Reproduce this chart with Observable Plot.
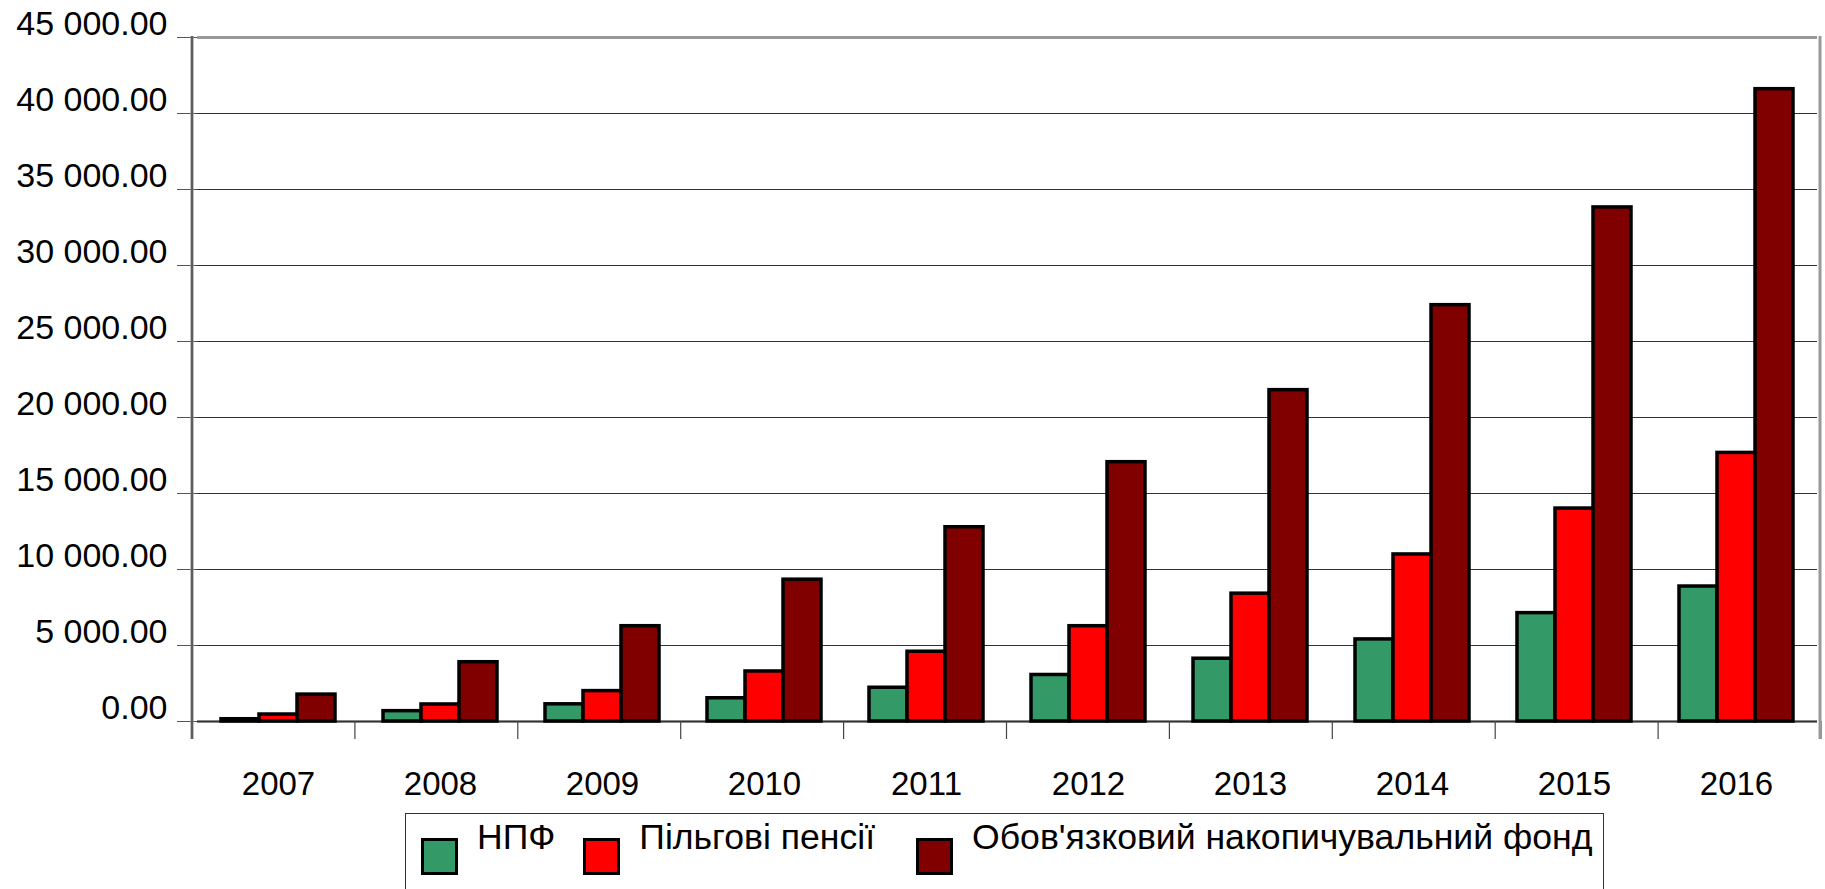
<!DOCTYPE html>
<html><head><meta charset="utf-8">
<script src="https://cdn.jsdelivr.net/npm/d3@7"></script>
<script src="https://cdn.jsdelivr.net/npm/@observablehq/plot@0.6"></script>
<style>
html,body{margin:0;padding:0;background:#fff;}
body{width:1825px;height:889px;overflow:hidden;font-family:"Liberation Sans",Arial,sans-serif;}
#chart svg{display:block;}
#legend{position:relative;margin-left:405px;margin-top:1px;width:1199px;height:130px;border:1.5px solid #333;box-sizing:border-box;display:flex;align-items:flex-start;padding-left:15px;}
.sw{flex:none;width:37px;height:37px;border:3px solid #000;box-sizing:border-box;margin-top:24px;}
.lt{flex:none;font-size:35.6px;line-height:36px;margin-top:5px;margin-left:19px;margin-right:28px;white-space:nowrap;color:#000;}
.lt.k1{margin-right:41px;}
</style></head>
<body><div id="chart"></div><div id="legend"></div>
<script>
const years = [2007, 2008, 2009, 2010, 2011, 2012, 2013, 2014, 2015, 2016];
const series = ["НПФ", "Пільгові пенсії", "Обов'язковий накопичувальний фонд"];
const colors = ["#339966", "#ff0000", "#800000"];
const npf = [150, 680, 1130, 1530, 2220, 3060, 4130, 5400, 7130, 8880];
const pilgovi = [460, 1120, 2000, 3290, 4590, 6270, 8410, 10990, 14010, 17670];
const obovyazkovyi = [1770, 3900, 6270, 9330, 12780, 17060, 21800, 27390, 33820, 41600];
const yTicks = [0, 5000, 10000, 15000, 20000, 25000, 30000, 35000, 40000, 45000];

const seriesValues = [npf, pilgovi, obovyazkovyi];
const data = years.flatMap((yr, i) => series.map((s, k) => ({year: yr, series: s, value: seriesValues[k][i]})));

const loc = d3.formatLocale({decimal: ".", thousands: " ", grouping: [3], currency: ["", ""]});
const fmt = loc.format(",.2f");

const W = 1825, H = 812;
const chart = Plot.plot({
  width: W, height: H,
  marginLeft: 192, marginRight: 4, marginTop: 37, marginBottom: H - 721,
  style: {fontFamily: "'Liberation Sans', Arial, sans-serif", fontSize: "33px", color: "#000", background: "#fff", overflow: "visible"},
  fx: {domain: years, paddingInner: 0, paddingOuter: 0, label: null},
  x: {domain: series, paddingInner: 0, paddingOuter: 0.61, axis: null},
  y: {domain: [0, 45000], label: null},
  color: {domain: series, range: colors},
  marks: [
    Plot.ruleY(yTicks.filter(v => v > 0 && v < 45000), {stroke: "#333", strokeWidth: 1.2}),
    Plot.ruleY([45000], {stroke: "#999", strokeWidth: 3}),
    Plot.ruleY([0], {stroke: "#888", strokeWidth: 3}),
    Plot.ruleY([0], {stroke: "#333", strokeWidth: 1}),
    Plot.axisY(yTicks, {tickSize: 20, text: null, stroke: "#555"}),
    Plot.axisY(yTicks, {tickSize: 0, tickPadding: 30, dy: -13, tickFormat: fmt, fill: "#000", fontSize: 34}),
    Plot.axisFx({anchor: "bottom", tickSize: 0, tickPadding: 50, tickFormat: d => String(d), fontSize: 33, fill: "#000", label: null}),
    Plot.barY(data, {fx: "year", x: "series", y: "value", fill: "series", stroke: "#000", strokeWidth: 3.5})
  ]
});
document.getElementById("chart").appendChild(chart);

// frame lines and category boundary ticks, positioned with Plot's own scales
const fxs = chart.scale("fx"), ys = chart.scale("y");
const fxBand = d3.scaleBand(fxs.domain, fxs.range)
  .paddingInner(fxs.paddingInner ?? 0).paddingOuter(fxs.paddingOuter ?? 0).align(fxs.align ?? 0.5);
const yLin = d3.scaleLinear(ys.domain, ys.range);
const [rx0, rx1] = fxs.range;
const yTop = yLin(45000), yZero = yLin(0);
const svg = d3.select(chart);
const g = svg.append("g");
const bounds = years.map(y => fxBand(y)).concat([rx1]);
g.selectAll("line.xt").data(bounds).join("line")
  .attr("x1", d => d).attr("x2", d => d).attr("y1", yZero).attr("y2", yZero + 18)
  .attr("stroke", "#444").attr("stroke-width", 1.2);
g.append("line").attr("x1", rx0).attr("x2", rx0).attr("y1", yTop - 1).attr("y2", yZero + 18)
  .attr("stroke", "#888").attr("stroke-width", 3);
g.append("line").attr("x1", rx0).attr("x2", rx0).attr("y1", yTop - 1).attr("y2", yZero + 18)
  .attr("stroke", "#333").attr("stroke-width", 1);
g.append("line").attr("x1", rx1 - 1).attr("x2", rx1 - 1).attr("y1", yTop - 1).attr("y2", yZero + 18)
  .attr("stroke", "#999").attr("stroke-width", 3);

// legend
const legend = document.getElementById("legend");
series.forEach((s, k) => {
  const sw = document.createElement("div");
  sw.className = "sw";
  sw.style.background = colors[k];
  const t = document.createElement("div");
  t.className = "lt k" + k;
  t.textContent = s;
  legend.appendChild(sw);
  legend.appendChild(t);
});
</script></body></html>
